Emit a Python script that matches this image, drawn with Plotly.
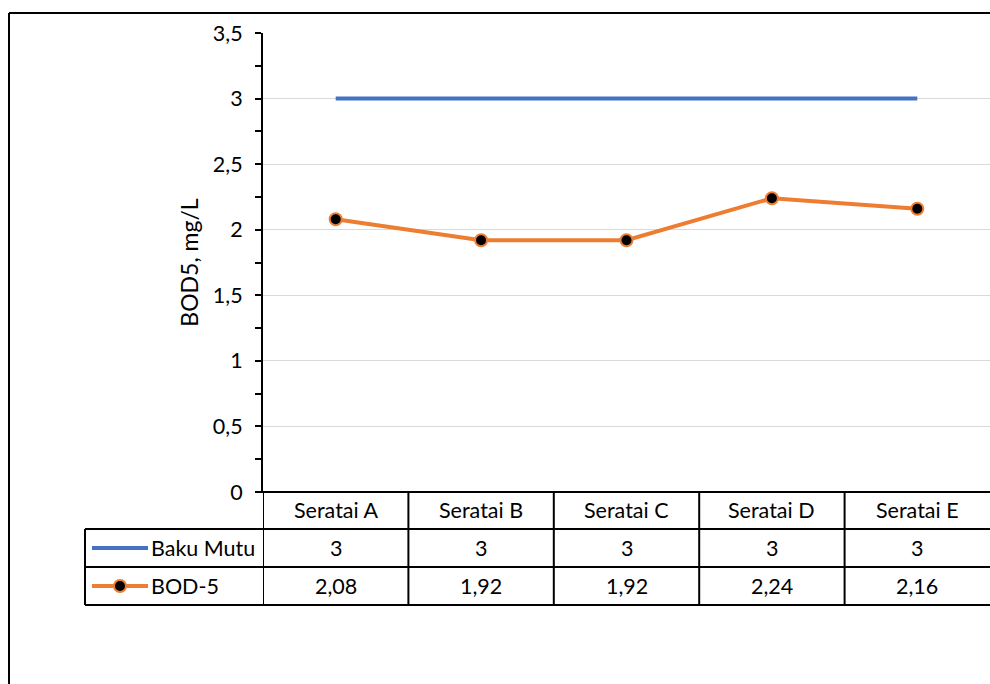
import plotly.graph_objects as go

# Sampling stations and measured values
categories = ["Seratai A", "Seratai B", "Seratai C", "Seratai D", "Seratai E"]
baku_mutu = [3, 3, 3, 3, 3]
bod5 = [2.08, 1.92, 1.92, 2.24, 2.16]
series_names = ["Baku Mutu", "BOD-5"]

BLUE = "#4472C4"
ORANGE = "#ED7D31"
FONT = "Lato"
FS = 21.5

W, H = 990, 684
L, R, T, B = 263, 0, 33, 192
PW = W - L - R
PH = H - T - B


def px(x):
    """pixel x -> paper x"""
    return (x - L) / PW


def py(y):
    """pixel y -> paper y"""
    return (H - B - y) / PH


xpos = list(range(len(categories)))

fig = go.Figure()
fig.add_trace(go.Scatter(
    x=xpos, y=baku_mutu, mode="lines", name=series_names[0],
    line=dict(color=BLUE, width=4), showlegend=False, hoverinfo="skip",
))
fig.add_trace(go.Scatter(
    x=xpos, y=bod5, mode="lines+markers", name=series_names[1],
    line=dict(color=ORANGE, width=4),
    marker=dict(color="black", size=12, line=dict(color=ORANGE, width=2)),
    showlegend=False, hoverinfo="skip",
))

shapes = []
ann = []
LC = dict(color="black", width=2)

# data table rows (pixel y of row lines)
row_top, row1, row2, row3 = H - B, 529, 567, 605
leg_left = 85

# horizontal lines
for yy in (row1, row2, row3):
    shapes.append(dict(type="line", xref="paper", yref="paper",
                       x0=px(leg_left), x1=1, y0=py(yy), y1=py(yy), line=LC))
shapes.append(dict(type="line", xref="paper", yref="paper",
                   x0=px(256), x1=1, y0=py(row_top), y1=py(row_top), line=LC))
# vertical lines between categories
for i in range(len(categories)):
    shapes.append(dict(type="line", xref="x", yref="paper",
                       x0=i - 0.5, x1=i - 0.5, y0=py(row_top), y1=py(row3), line=LC))
shapes.append(dict(type="line", xref="paper", yref="paper",
                   x0=px(leg_left), x1=px(leg_left), y0=py(row1), y1=py(row3), line=LC))

# outer chart frame (left and top edges)
shapes.append(dict(type="line", xref="paper", yref="paper",
                   x0=px(9), x1=px(9), y0=py(13), y1=py(H + 5), line=LC))
shapes.append(dict(type="line", xref="paper", yref="paper",
                   x0=px(9), x1=1, y0=py(13), y1=py(13), line=LC))

# legend keys inside the table
mid2 = (row1 + row2) / 2
mid3 = (row2 + row3) / 2
shapes.append(dict(type="line", xref="paper", yref="paper",
                   x0=px(92), x1=px(148), y0=py(mid2), y1=py(mid2),
                   line=dict(color=BLUE, width=4)))
shapes.append(dict(type="line", xref="paper", yref="paper",
                   x0=px(92), x1=px(148), y0=py(mid3), y1=py(mid3),
                   line=dict(color=ORANGE, width=4)))
shapes.append(dict(type="circle", xref="paper", yref="paper",
                   x0=px(114), x1=px(126), y0=py(mid3 - 6), y1=py(mid3 + 6),
                   fillcolor="black", line=dict(color=ORANGE, width=2)))

txt = dict(family=FONT, size=FS, color="black")
ann.append(dict(text=series_names[0], xref="paper", yref="paper", x=px(149), y=py(mid2),
                xanchor="left", yanchor="middle", showarrow=False, font=txt))
ann.append(dict(text=series_names[1], xref="paper", yref="paper", x=px(149), y=py(mid3),
                xanchor="left", yanchor="middle", showarrow=False, font=txt))


def fmt(v):
    return f"{v:g}".replace(".", ",")


for i, c in enumerate(categories):
    ann.append(dict(text=c, xref="x", yref="paper", x=i, y=py((row_top + row1) / 2),
                    xanchor="center", yanchor="middle", showarrow=False, font=txt))
    ann.append(dict(text=fmt(baku_mutu[i]), xref="x", yref="paper", x=i, y=py(mid2),
                    xanchor="center", yanchor="middle", showarrow=False, font=txt))
    ann.append(dict(text=fmt(bod5[i]), xref="x", yref="paper", x=i, y=py(mid3),
                    xanchor="center", yanchor="middle", showarrow=False, font=txt))

fig.update_layout(
    width=W, height=H,
    margin=dict(l=L, r=R, t=T, b=B),
    paper_bgcolor="white", plot_bgcolor="white",
    separators=", ",
    font=txt,
    shapes=shapes, annotations=ann,
    xaxis=dict(range=[-0.5, len(categories) - 0.5], showgrid=False, zeroline=False,
               showticklabels=False, ticks="", showline=False, fixedrange=True),
    yaxis=dict(range=[0, 3.5], dtick=0.5, showgrid=True, gridcolor="#D9D9D9", gridwidth=1,
               zeroline=False, showline=True, linecolor="black", linewidth=2,
               ticks="outside", ticklen=6, tickwidth=2, tickcolor="black",
               minor=dict(dtick=0.25, ticks="outside", ticklen=6, tickwidth=2,
                          tickcolor="black", showgrid=False),
               tickfont=txt, ticklabelstandoff=8,
               title=dict(text="BOD5, mg/L", font=dict(family=FONT, size=23), standoff=8)),
)

fig.write_html("out.html")
